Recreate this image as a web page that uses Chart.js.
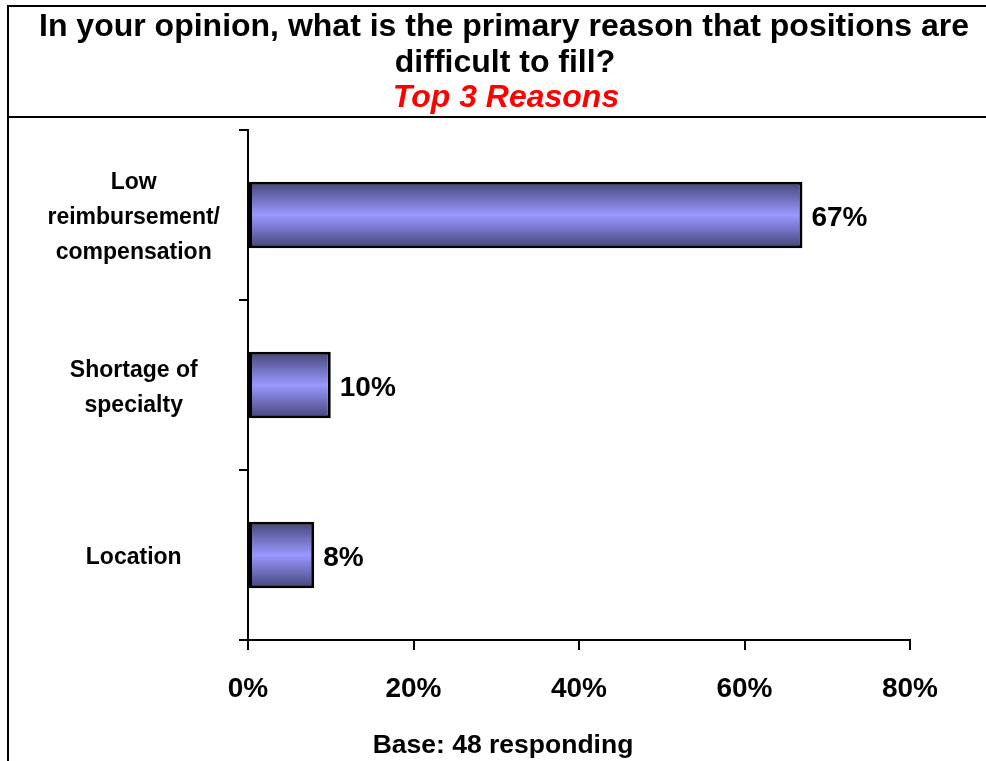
<!DOCTYPE html>
<html>
<head>
<meta charset="utf-8">
<title>Primary reason positions are difficult to fill</title>
<script src="https://cdn.jsdelivr.net/npm/chart.js@4.4.1/dist/chart.umd.min.js"></script>
<style>
  html, body { margin: 0; padding: 0; background: #fff; }
  #wrap { width: 986px; height: 761px; position: relative; }
</style>
</head>
<body>
<div id="wrap"><canvas id="reasonsChart"></canvas></div>
<script>
// survey answers, top 3
const categories = [
  ['Low', 'reimbursement/', 'compensation'],
  ['Shortage of', 'specialty'],
  ['Location']
];
const percents = [67, 10, 8];
const xTicks = [0, 20, 40, 60, 80];

const titleLines = ['In your opinion, what is the primary reason that positions are', 'difficult to fill?'];
const subtitleText = 'Top 3 Reasons';
const footnoteText = 'Base: 48 responding';

const FONT = '"Liberation Sans", Arial, Helvetica, sans-serif';
const BAR_PCT = 0.39;

// vertical shading on each bar: dark edges, light middle
function barFill(ctx) {
  const chart = ctx.chart;
  const yScale = chart.scales.y;
  if (!chart.chartArea || !yScale) return '#8f8ff0';
  const mid = yScale.getPixelForValue(ctx.dataIndex);
  const h = yScale.height / categories.length * BAR_PCT;
  if (!isFinite(mid) || !isFinite(h) || h <= 0) return '#8f8ff0';
  const g = chart.ctx.createLinearGradient(0, mid - h / 2, 0, mid + h / 2);
  g.addColorStop(0, '#444478');
  g.addColorStop(0.5, '#9999ff');
  g.addColorStop(1, '#444478');
  return g;
}

// box around the title and the left edge
const framePlugin = {
  id: 'frame',
  beforeDraw(chart) {
    const c = chart.ctx;
    c.save();
    c.fillStyle = '#fff';
    c.fillRect(0, 0, chart.width, chart.height);
    c.strokeStyle = '#000';
    c.lineWidth = 2;
    c.beginPath();
    c.moveTo(8, chart.height);
    c.lineTo(8, 6);
    c.lineTo(chart.width, 6);
    c.moveTo(8, 117);
    c.lineTo(chart.width, 117);
    c.stroke();
    c.restore();
  },
  afterDraw(chart) {
    const c = chart.ctx;
    c.save();
    c.textAlign = 'center';
    c.textBaseline = 'middle';
    c.fillStyle = '#000';
    c.font = 'bold 32px ' + FONT;
    c.fillText(titleLines[0], 504, 27);
    c.fillText(titleLines[1], 505, 63);
    c.fillStyle = '#ff0000';
    c.font = 'italic bold 32px ' + FONT;
    c.fillText(subtitleText, 506, 98);
    c.fillStyle = '#000';
    c.font = 'bold 26.5px ' + FONT;
    c.fillText(footnoteText, 503, 746);
    c.restore();
  }
};

// percentage at the end of each bar
const valueLabels = {
  id: 'valueLabels',
  afterDatasetsDraw(chart) {
    const c = chart.ctx;
    const meta = chart.getDatasetMeta(0);
    c.save();
    c.font = 'bold 28px ' + FONT;
    c.fillStyle = '#000';
    c.textAlign = 'left';
    c.textBaseline = 'middle';
    meta.data.forEach((bar, i) => {
      c.fillText(percents[i] + '%', bar.x + 9, bar.y + 3);
    });
    c.restore();
  }
};

new Chart(document.getElementById('reasonsChart'), {
  type: 'bar',
  data: {
    labels: categories,
    datasets: [{
      data: percents,
      backgroundColor: barFill,
      borderColor: '#000',
      borderWidth: 3,
      borderSkipped: false,
      categoryPercentage: 1,
      barPercentage: BAR_PCT
    }]
  },
  options: {
    indexAxis: 'y',
    responsive: true,
    maintainAspectRatio: false,
    animation: false,
    layout: { padding: { top: 130, right: 76, bottom: 0, left: 0 } },
    plugins: {
      legend: { display: false },
      tooltip: { enabled: false }
    },
    scales: {
      x: {
        min: 0,
        max: 80,
        afterFit(scale) { scale.height = 121; },
        afterBuildTicks(scale) { scale.ticks = xTicks.map(v => ({ value: v })); },
        border: { color: '#000', width: 2 },
        grid: { drawOnChartArea: false, color: '#000', lineWidth: 2, tickLength: 10 },
        ticks: {
          color: '#000',
          padding: 22,
          maxRotation: 0,
          font: { family: FONT, size: 28, weight: 'bold' },
          callback: v => v + '%'
        }
      },
      y: {
        afterFit(scale) { scale.width = 248; },
        border: { color: '#000', width: 2 },
        grid: { drawOnChartArea: false, color: '#000', lineWidth: 2, tickLength: 9, offset: true },
        ticks: {
          color: '#000',
          padding: 19,
          labelOffset: 3,
          crossAlign: 'center',
          font: { family: FONT, size: 23, weight: 'bold', lineHeight: 1.52 }
        }
      }
    }
  },
  plugins: [framePlugin, valueLabels]
});
</script>
</body>
</html>
